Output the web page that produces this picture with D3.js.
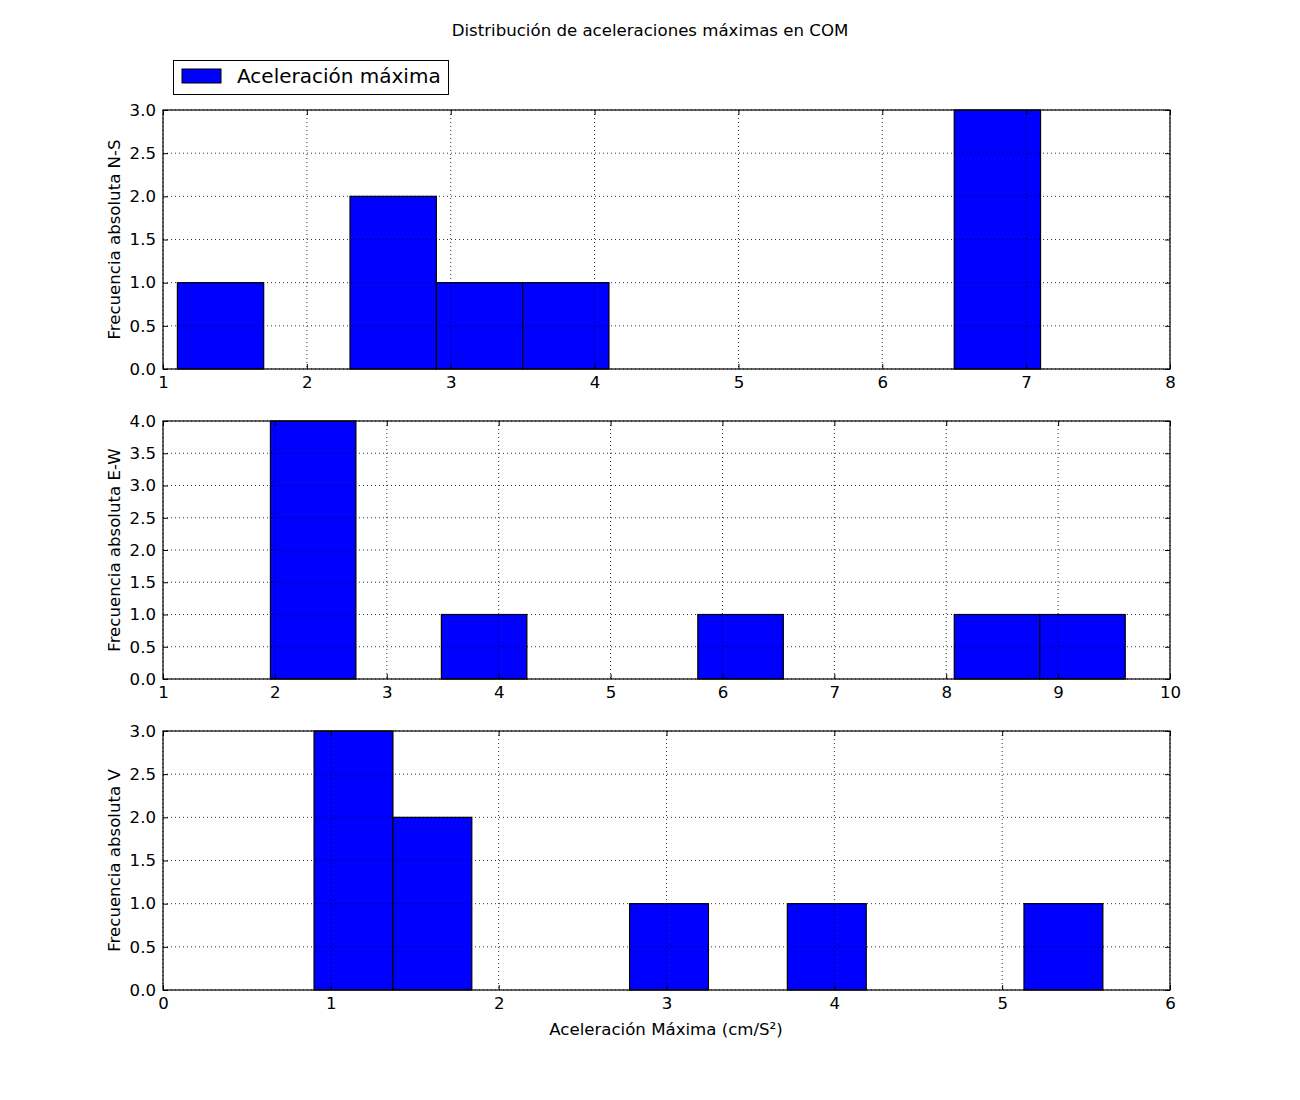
<!DOCTYPE html>
<html><head><meta charset="utf-8">
<script src="https://cdn.jsdelivr.net/npm/d3@7"></script>
<style>body{margin:0;background:#fff;} svg{font-family:"DejaVu Sans",sans-serif;}</style>
</head><body>
<script>
// N-S panel
const nsEdges = [1.1,1.7,2.3,2.9,3.5,4.1,4.7,5.3,5.9,6.5,7.1];
const nsCounts = [1,0,2,1,1,0,0,0,0,3];
const nsXTicks = [1,2,3,4,5,6,7,8];
const nsYTicks = [0,0.5,1,1.5,2,2.5,3];
// E-W panel
const ewEdges = [1.96,2.724,3.488,4.252,5.016,5.78,6.544,7.308,8.072,8.836,9.6];
const ewCounts = [4,0,1,0,0,1,0,0,1,1];
const ewXTicks = [1,2,3,4,5,6,7,8,9,10];
const ewYTicks = [0,0.5,1,1.5,2,2.5,3,3.5,4];
// V panel
const vEdges = [0.9,1.37,1.84,2.31,2.78,3.25,3.72,4.19,4.66,5.13,5.6];
const vCounts = [3,2,0,0,1,0,1,0,0,1];
const vXTicks = [0,1,2,3,4,5,6];
const vYTicks = [0,0.5,1,1.5,2,2.5,3];

const title = "Distribución de aceleraciones máximas en COM";
const legendLabel = "Aceleración máxima";
const xLabel = "Aceleración Máxima (cm/S²)";

const W=1300,H=1100;
const svg=d3.select("body").append("svg").attr("width",W).attr("height",H);
svg.append("rect").attr("width",W).attr("height",H).attr("fill","#fff");

svg.append("text").attr("x",650).attr("y",36).attr("text-anchor","middle")
  .attr("font-size",16.6).text(title);

const left=163,right=1170;
const fs=16.6;
const panels=[
  {edges:nsEdges,counts:nsCounts,xt:nsXTicks,yt:nsYTicks,xd:[1,8],yd:[0,3],top:110,bot:369,yl:"Frecuencia absoluta N-S"},
  {edges:ewEdges,counts:ewCounts,xt:ewXTicks,yt:ewYTicks,xd:[1,10],yd:[0,4],top:421,bot:679,yl:"Frecuencia absoluta E-W"},
  {edges:vEdges,counts:vCounts,xt:vXTicks,yt:vYTicks,xd:[0,6],yd:[0,3],top:731,bot:990,yl:"Frecuencia absoluta V"}
];
const fmtY=d3.format(".1f");
panels.forEach(p=>{
  const x=d3.scaleLinear().domain(p.xd).range([left,right]);
  const y=d3.scaleLinear().domain(p.yd).range([p.bot,p.top]);
  const g=svg.append("g");
  const bins=p.counts.map((c,i)=>({x0:p.edges[i],x1:p.edges[i+1],c}));
  g.selectAll("rect.bar").data(bins.filter(b=>b.c>0)).join("rect")
    .attr("x",d=>x(d.x0)).attr("width",d=>x(d.x1)-x(d.x0))
    .attr("y",d=>y(d.c)).attr("height",d=>y(0)-y(d.c))
    .attr("fill","#0000ff").attr("stroke","#000").attr("stroke-width",1.2);
  // grid on top
  g.append("g").selectAll("line").data(p.xt).join("line")
    .attr("x1",d=>x(d)).attr("x2",d=>x(d)).attr("y1",p.top).attr("y2",p.bot)
    .attr("stroke","#000").attr("stroke-width",0.8).attr("stroke-dasharray","1,3");
  g.append("g").selectAll("line").data(p.yt).join("line")
    .attr("y1",d=>y(d)).attr("y2",d=>y(d)).attr("x1",left).attr("x2",right)
    .attr("stroke","#000").attr("stroke-width",0.8).attr("stroke-dasharray","1,3");
  const ax=(gen,tr)=>{const a=g.append("g").attr("transform",tr).call(gen);
    a.select(".domain").remove(); a.selectAll("text").attr("font-size",fs).attr("fill","#000")
      .attr("font-family","DejaVu Sans"); a.selectAll("line").attr("stroke","#000"); return a;};
  ax(d3.axisBottom(x).tickValues(p.xt).tickFormat(d3.format("d")).tickSizeInner(-5).tickPadding(7),`translate(0,${p.bot})`);
  ax(d3.axisTop(x).tickValues(p.xt).tickSizeInner(-5).tickFormat(""),`translate(0,${p.top})`);
  ax(d3.axisLeft(y).tickValues(p.yt).tickFormat(fmtY).tickSizeInner(-5).tickPadding(7),`translate(${left},0)`);
  ax(d3.axisRight(y).tickValues(p.yt).tickSizeInner(-5).tickFormat(""),`translate(${right},0)`);
  g.append("rect").attr("x",left).attr("y",p.top).attr("width",right-left).attr("height",p.bot-p.top)
    .attr("fill","none").attr("stroke","#000").attr("stroke-width",1.2);
  g.append("text").attr("transform",`translate(120,${(p.top+p.bot)/2}) rotate(-90)`)
    .attr("text-anchor","middle").attr("font-size",fs).text(p.yl);
});
svg.append("text").attr("x",666).attr("y",1035).attr("text-anchor","middle").attr("font-size",fs).text(xLabel);

// legend
const lg=svg.append("g");
lg.append("rect").attr("x",173.5).attr("y",60.5).attr("width",275).attr("height",34)
  .attr("fill","#fff").attr("stroke","#000").attr("stroke-width",1);
lg.append("rect").attr("x",182).attr("y",69).attr("width",39).attr("height",14)
  .attr("fill","#0000ff").attr("stroke","#000").attr("stroke-width",1);
lg.append("text").attr("x",237).attr("y",83).attr("font-size",20).text(legendLabel);
</script>
</body></html>
